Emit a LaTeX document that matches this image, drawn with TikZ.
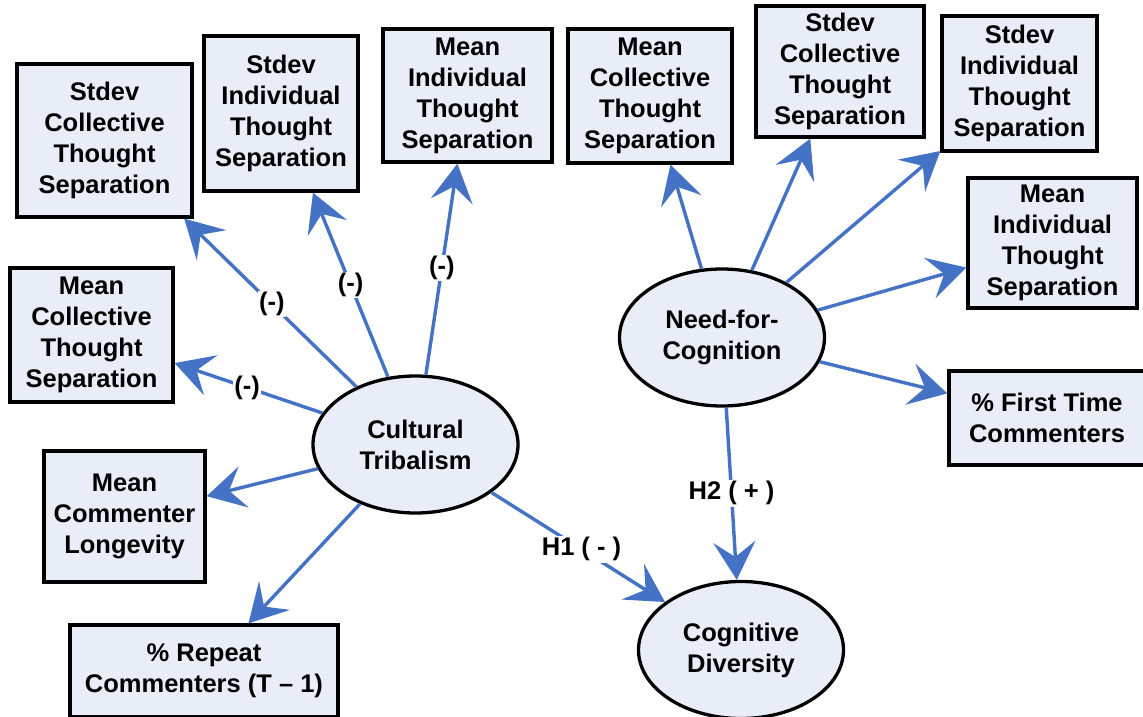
\documentclass[tikz,border=0pt]{standalone}
\usepackage{fontspec}
\setmainfont{Liberation Sans}
\usetikzlibrary{shapes.geometric,arrows.meta,calc}
\definecolor{boxfill}{RGB}{233,237,247}
\definecolor{linkblue}{RGB}{68,114,196}
\begin{document}
\begin{tikzpicture}[x=1pt,y=-1pt,
  every node/.style={font=\fontsize{25.5}{31}\selectfont\bfseries, text=black},
  varbox/.style={draw=black, line width=3.3pt, fill=boxfill, rectangle, align=center, inner sep=0pt},
  construct/.style={draw=black, line width=3.3pt, fill=boxfill, ellipse, align=center,
    inner sep=0pt, minimum width=205pt, minimum height=137pt},
  link/.style={draw=linkblue, line width=3.4pt, -{Stealth[length=38pt,width=42pt,inset=15pt]}},
  sign/.style={fill=white, inner sep=1.5pt}]

\useasboundingbox (0,0) rectangle (1143,717);

% latent constructs
\node[construct] (ct) at (415.5,444.5) {Cultural\\Tribalism};
\node[construct] (nfc) at (722,337.5) {Need-for-\\Cognition};
\node[construct] (cd) at (741,650) {Cognitive\\Diversity};

% indicators of cultural tribalism
\node[varbox, minimum width=175pt, minimum height=153pt] (ctsc) at (104.5,140.5) {Stdev\\Collective\\Thought\\Separation};
\node[varbox, minimum width=154pt, minimum height=155pt] (ctsi) at (281,113.5) {Stdev\\Individual\\Thought\\Separation};
\node[varbox, minimum width=169pt, minimum height=133pt] (ctmi) at (467.5,95.5) {Mean\\Individual\\Thought\\Separation};
\node[varbox, minimum width=163pt, minimum height=134pt] (ctmc) at (91.5,335) {Mean\\Collective\\Thought\\Separation};
\node[varbox, minimum width=161pt, minimum height=131pt] (ctml) at (124.5,516.5) {Mean\\Commenter\\Longevity};
\node[varbox, minimum width=268pt, minimum height=92pt] (ctrc) at (204,671) {\% Repeat\\Commenters (T – 1)};

% indicators of need for cognition
\node[varbox, minimum width=164pt, minimum height=134pt] (nmc) at (650,96) {Mean\\Collective\\Thought\\Separation};
\node[varbox, minimum width=168pt, minimum height=131pt] (nsc) at (840,71.5) {Stdev\\Collective\\Thought\\Separation};
\node[varbox, minimum width=155pt, minimum height=135pt] (nsi) at (1019.5,83.5) {Stdev\\Individual\\Thought\\Separation};
\node[varbox, minimum width=169pt, minimum height=130pt] (nmi) at (1052.5,243) {Mean\\Individual\\Thought\\Separation};
\node[varbox, minimum width=196pt, minimum height=94pt] (nft) at (1047,418) {\% First Time\\Commenters};

% measurement links
\draw[link] (ct) -- (ctsc);
\draw[link] (ct) -- (ctsi);
\draw[link] (ct) -- (ctmi);
\draw[link] (ct) -- (ctmc);
\draw[link] (ct) -- (ctml);
\draw[link] (ct) -- (ctrc);
\draw[link] (nfc) -- (nmc);
\draw[link] (nfc) -- (nsc);
\draw[link] (nfc) -- (nsi);
\draw[link] (nfc) -- (nmi);
\draw[link] (nfc) -- (nft);

% hypotheses
\draw[link] (ct) -- (cd);
\draw[link] (nfc) -- (cd);

% signs on the links
\node[sign] (s1) at ($(ct)!0.462!(ctsc)$) {(-)};
\node[sign] (s2) at ($(ct)!0.482!(ctsi)$) {(-)};
\node[sign] (s3) at ($(ct)!0.506!(ctmi)$) {(-)};
\node[sign] (s4) at ($(ct)!0.52!(ctmc)$) {(-)};
\node[sign] (h1) at ($(ct)!0.51!(cd)$) {H1 ( - )};
\node[sign] (h2) at ($(nfc)!0.498!(cd)$) {H2 ( + )};
\end{tikzpicture}
\end{document}
